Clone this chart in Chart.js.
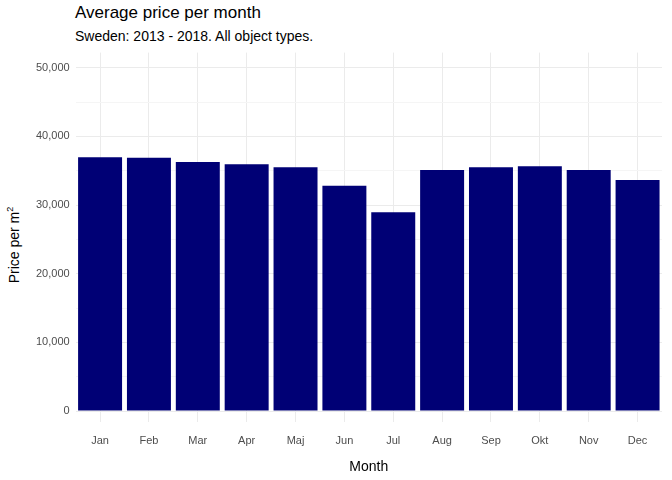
<!DOCTYPE html>
<html>
<head>
<meta charset="utf-8">
<script src="https://cdn.jsdelivr.net/npm/chart.js@4"></script>
<style>
  body { margin:0; background:#fff; font-family:"Liberation Sans", Arial, sans-serif; }
  #wrap { position:relative; width:672px; height:480px; }
  #title { position:absolute; left:75px; top:3px; font-size:17px; color:#000; }
  #sub { position:absolute; left:75px; top:28px; font-size:14px; color:#000; }
  #ytitle { position:absolute; left:5px; top:245px; transform-origin:0 0; transform:rotate(-90deg) translate(-50%,0); font-size:14px; white-space:nowrap; }
  canvas { position:absolute; left:0; top:40px; }
</style>
</head>
<body>
<div id="wrap">
  <div id="title">Average price per month</div>
  <div id="sub">Sweden: 2013 - 2018. All object types.</div>
  <div id="ytitle">Price per m<sup style="font-size:9px">2</sup></div>
  <canvas id="c" width="672" height="440"></canvas>
</div>
<script>
const months = ['Jan','Feb','Mar','Apr','Maj','Jun','Jul','Aug','Sep','Okt','Nov','Dec'];
const prices = [36950, 36900, 36250, 35950, 35500, 32800, 28950, 35100, 35500, 35650, 35100, 33650];
const yTicks = [0,5000,10000,15000,20000,25000,30000,35000,40000,45000,50000];

new Chart(document.getElementById('c'), {
  type: 'bar',
  data: { labels: months, datasets: [{ data: prices, backgroundColor: '#000075', barPercentage: 0.9, categoryPercentage: 1 }] },
  options: {
    responsive: false,
    animation: false,
    layout: { padding: { left: 30, right: 10, top: 0, bottom: 0 } },
    plugins: { legend: { display: false }, tooltip: { enabled: false } },
    scales: {
      x: {
        grid: { offset: false, color: '#ebebeb', drawTicks: false },
        border: { display: false },
        ticks: { color: '#4d4d4d', font: { size: 11, family: 'Liberation Sans' }, padding: 12 },
        title: { display: true, text: 'Month', color: '#000', font: { size: 14, family: 'Liberation Sans' }, padding: { top: 0, bottom: 4 } }
      },
      y: {
        min: -1600, max: 52200,
        afterBuildTicks: ax => { ax.ticks = yTicks.map(v => ({ value: v })); },
        grid: { color: ctx => (ctx.tick && ctx.tick.value % 10000 === 0) ? '#ebebeb' : '#f5f5f5', drawTicks: false },
        border: { display: false },
        ticks: {
          color: '#4d4d4d', font: { size: 11, family: 'Liberation Sans' }, padding: 6,
          callback: v => v % 10000 === 0 ? v.toLocaleString('en-US') : ''
        }
      }
    }
  }
});
</script>
</body>
</html>
